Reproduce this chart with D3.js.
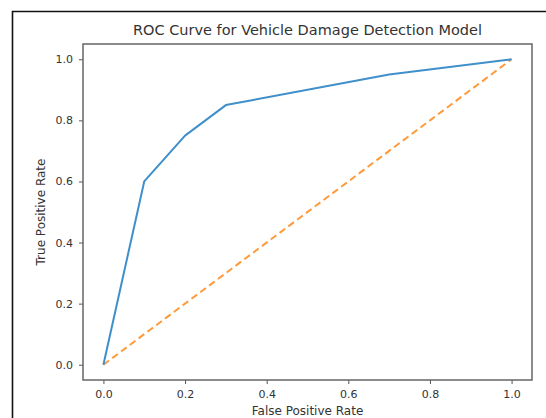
<!DOCTYPE html>
<html>
<head>
<meta charset="utf-8">
<script src="https://cdn.jsdelivr.net/npm/d3@7"></script>
<style>
  html, body { margin: 0; padding: 0; background: #fff; }
  svg { display: block; font-family: "DejaVu Sans", sans-serif; }
</style>
</head>
<body>
<div id="chart"></div>
<script>
// ROC points
const fpr = [0, 0.1, 0.2, 0.3, 0.7, 1.0];
const tpr = [0, 0.6, 0.75, 0.85, 0.95, 1.0];
const chance = [0, 1];
const ticks = [0, 0.2, 0.4, 0.6, 0.8, 1.0];

const W = 546, H = 418;
const box = { left: 83, top: 44, right: 532, bottom: 380 };

const svg = d3.select("#chart").append("svg")
  .attr("width", W).attr("height", H);

// outer screenshot frame
svg.append("path")
  .attr("d", `M12.5,${H} V11.5 H${W}`)
  .attr("fill", "none").attr("stroke", "#111").attr("stroke-width", 1.6);

const x = d3.scaleLinear().domain([-0.05, 1.05]).range([box.left, box.right]);
const y = d3.scaleLinear().domain([-0.05, 1.05]).range([box.bottom, box.top]);

const styleAxis = g => {
  g.select(".domain").remove();
  g.selectAll(".tick line").attr("stroke", "#555").attr("stroke-width", 1);
  g.selectAll(".tick text").attr("fill", "#333").attr("font-size", 11)
    .attr("font-family", "DejaVu Sans, sans-serif");
};

svg.append("g")
  .attr("transform", `translate(0,${box.bottom})`)
  .call(d3.axisBottom(x).tickValues(ticks).tickFormat(d3.format(".1f")).tickSize(4).tickPadding(6))
  .call(styleAxis);

svg.append("g")
  .attr("transform", `translate(${box.left},0)`)
  .call(d3.axisLeft(y).tickValues(ticks).tickFormat(d3.format(".1f")).tickSize(4).tickPadding(6))
  .call(styleAxis);

const line = d3.line().x(d => x(d[0])).y(d => y(d[1]));

svg.append("path")
  .datum(chance.map(v => [v, v]))
  .attr("d", line)
  .attr("fill", "none").attr("stroke", "#ff9a3c").attr("stroke-width", 2)
  .attr("stroke-dasharray", "7 4");

svg.append("path")
  .datum(fpr.map((v, i) => [v, tpr[i]]))
  .attr("d", line)
  .attr("fill", "none").attr("stroke", "#3f8fcb").attr("stroke-width", 2)
  .attr("stroke-linejoin", "round");

// axes box
svg.append("rect")
  .attr("x", box.left).attr("y", box.top)
  .attr("width", box.right - box.left).attr("height", box.bottom - box.top)
  .attr("fill", "none").attr("stroke", "#666").attr("stroke-width", 1.5);

svg.append("text")
  .attr("x", (box.left + box.right) / 2).attr("y", 35)
  .attr("text-anchor", "middle").attr("font-size", 14.5).attr("fill", "#333")
  .text("ROC Curve for Vehicle Damage Detection Model");

svg.append("text")
  .attr("x", (box.left + box.right) / 2).attr("y", 415)
  .attr("text-anchor", "middle").attr("font-size", 12).attr("fill", "#333")
  .text("False Positive Rate");

svg.append("text")
  .attr("transform", `translate(45,${(box.top + box.bottom) / 2}) rotate(-90)`)
  .attr("text-anchor", "middle").attr("font-size", 12).attr("fill", "#333")
  .text("True Positive Rate");
</script>
</body>
</html>
